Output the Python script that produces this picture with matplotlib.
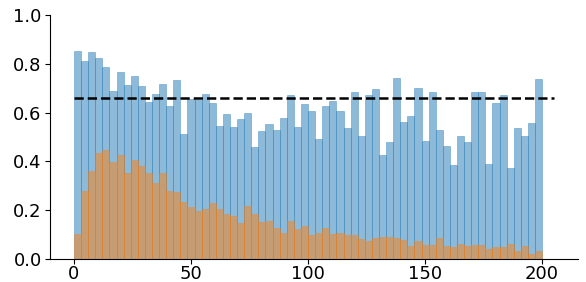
import numpy as np
import matplotlib
matplotlib.use("Agg")
import matplotlib.pyplot as plt

blue_vals = [0.852, 0.811, 0.848, 0.824, 0.787, 0.689, 0.766, 0.713, 0.750, 0.709,
             0.643, 0.676, 0.717, 0.627, 0.734, 0.512, 0.654, 0.652, 0.676, 0.639,
             0.545, 0.594, 0.541, 0.574, 0.598, 0.459, 0.525, 0.553, 0.529, 0.578,
             0.672, 0.541, 0.635, 0.607, 0.492, 0.627, 0.648, 0.607, 0.537, 0.684,
             0.504, 0.672, 0.697, 0.426, 0.480, 0.742, 0.561, 0.586, 0.701, 0.484,
             0.684, 0.529, 0.463, 0.385, 0.504, 0.480, 0.684, 0.684, 0.389, 0.639,
             0.672, 0.373, 0.537, 0.504, 0.557, 0.738]
orange_vals = [0.102, 0.277, 0.361, 0.433, 0.447, 0.398, 0.425, 0.351, 0.406, 0.381,
               0.351, 0.310, 0.351, 0.277, 0.275, 0.234, 0.212, 0.195, 0.204, 0.228,
               0.204, 0.184, 0.176, 0.148, 0.217, 0.184, 0.152, 0.154, 0.127, 0.105,
               0.154, 0.122, 0.135, 0.098, 0.107, 0.127, 0.102, 0.107, 0.098, 0.098,
               0.082, 0.074, 0.086, 0.090, 0.090, 0.086, 0.078, 0.053, 0.074, 0.057,
               0.057, 0.086, 0.053, 0.049, 0.061, 0.053, 0.057, 0.057, 0.041, 0.049,
               0.049, 0.061, 0.033, 0.053, 0.020, 0.033]
x_min, x_max = 0, 200
ref_level = 0.658
ref_end = 205
x_ticks = [0, 50, 100, 150, 200]
y_ticks = [0.0, 0.2, 0.4, 0.6, 0.8, 1.0]

edges = np.linspace(x_min, x_max, len(blue_vals) + 1)
centers = (edges[:-1] + edges[1:]) / 2
widths = np.diff(edges)

fig = plt.figure(figsize=(5.86, 2.82), dpi=100)
ax = fig.add_axes([0.0853, 0.0816, 0.9007, 0.8654])

ax.bar(centers, blue_vals, width=widths, color="C0", alpha=0.5,
       edgecolor="C0", linewidth=0.5)
ax.bar(centers, orange_vals, width=widths, color="C1", alpha=0.5,
       edgecolor="C1", linewidth=0.5)
ax.hlines(ref_level, x_min, ref_end, colors="black", linestyles="--", linewidth=1.8)

ax.set_ylim(0, 1.0)
ax.set_xlim(-10.25, 215.25)
ax.set_xticks(x_ticks)
ax.set_yticks(y_ticks)
ax.set_yticklabels([f"{v:.1f}" for v in y_ticks])
ax.tick_params(labelsize=13, pad=2.5)
ax.tick_params(axis="x", pad=1.0)
ax.spines["top"].set_visible(False)
ax.spines["right"].set_visible(False)

fig.savefig("out.png", dpi=100)
